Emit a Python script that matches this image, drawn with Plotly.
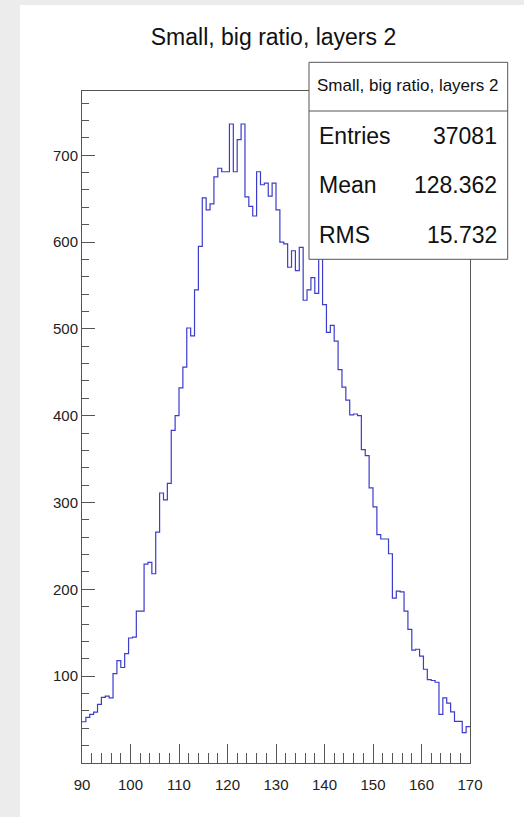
import numpy as np
import plotly.graph_objects as go

# ---- data ----
x_min, x_max, n_bins = 90, 170, 100
counts = [47.5, 52.5, 56, 58.5, 67.5, 75.5, 77, 75, 103, 118,
          110, 126, 144, 145, 175, 175, 229, 231, 218, 266,
          311, 303, 322, 383, 400, 432, 456, 501, 492, 545,
          595, 651, 637, 644, 675, 685, 681, 681, 736, 681,
          718, 736, 652, 641, 630, 681, 666, 668, 653, 668,
          637, 600, 598, 571, 590, 567, 594, 533, 545, 559,
          541, 600, 528, 496, 504, 486, 453, 433, 418, 401,
          402, 400, 361, 354, 317, 295, 263, 258, 258, 241,
          190, 198, 197, 175, 154, 130, 131, 123, 108, 96,
          95, 93, 56, 75, 69, 59, 48, 48, 35, 42]
title_text = "Small, big ratio, layers 2"
stat_labels = ["Entries", "Mean", "RMS"]
stat_values = ["37081", "128.362", "15.732"]
y_tick_vals = [100, 200, 300, 400, 500, 600, 700]
x_tick_vals = [90, 100, 110, 120, 130, 140, 150, 160, 170]

# ---- geometry ----
W, H = 524, 817
ML, MR, MT, MB = 82, 54, 91, 54
PW, PH = W - ML - MR, H - MT - MB

def px(xp):
    return (xp - ML) / PW

def py(yp):
    return (H - MB - yp) / PH

edges = np.linspace(x_min, x_max, n_bins + 1)
xs = list(edges)
ys = list(counts) + [counts[-1]]

FONT = "Liberation Sans, Arial, Helvetica, sans-serif"
AX = "#555555"

fig = go.Figure()
fig.add_trace(go.Scatter(x=xs, y=ys, mode="lines", line_shape="hv",
                         line=dict(color="rgb(60,60,205)", width=1.2),
                         hoverinfo="skip", showlegend=False))

fig.update_layout(
    width=W, height=H,
    margin=dict(l=ML, r=MR, t=MT, b=MB),
    paper_bgcolor="#ececec", plot_bgcolor="white",
    showlegend=False,
    title=dict(text=title_text, x=273.5 / W, xanchor="center",
               y=1 - 37 / H, yanchor="middle",
               font=dict(family=FONT, size=23, color="#111")),
    font=dict(family=FONT, color="#222"),
)
fig.update_xaxes(range=[x_min, x_max], showgrid=False, zeroline=False,
                 showline=True, linecolor=AX, linewidth=1, mirror=True,
                 ticks="inside", ticklen=19, tickcolor=AX, tickwidth=1,
                 tickvals=x_tick_vals, tickfont=dict(size=15, color="#222"),
                 ticklabelstandoff=8,
                 minor=dict(ticks="inside", ticklen=10, dtick=2, tick0=90,
                            tickcolor=AX, tickwidth=1, showgrid=False))
fig.update_yaxes(range=[0, 774], showgrid=False, zeroline=False,
                 showline=True, linecolor=AX, linewidth=1, mirror=True,
                 ticks="inside", ticklen=13, tickcolor=AX, tickwidth=1,
                 tickvals=y_tick_vals, tickfont=dict(size=15, color="#222"),
                 ticklabelstandoff=0,
                 minor=dict(ticks="inside", ticklen=7, dtick=20, tick0=0,
                            tickcolor=AX, tickwidth=1, showgrid=False))

# white canvas
fig.add_shape(type="rect", xref="paper", yref="paper", layer="below",
              x0=px(20), x1=px(W + 5), y0=py(H + 5), y1=py(5),
              fillcolor="white", line=dict(width=0))

# stats box
bx0, bx1, by0, by1, bsep = 309, 507.7, 62.3, 259.3, 111
fig.add_shape(type="rect", xref="paper", yref="paper", layer="above",
              x0=px(bx0), x1=px(bx1), y0=py(by1), y1=py(by0),
              fillcolor="white", line=dict(color=AX, width=1))
fig.add_shape(type="line", xref="paper", yref="paper", layer="above",
              x0=px(bx0), x1=px(bx1), y0=py(bsep), y1=py(bsep),
              line=dict(color=AX, width=1))
fig.add_annotation(xref="paper", yref="paper", x=px(407.5), y=py(86),
                   text=title_text, showarrow=False, xanchor="center",
                   yanchor="middle", font=dict(family=FONT, size=17, color="#111"))
for lab, val, yy in zip(stat_labels, stat_values, [136, 185, 235]):
    fig.add_annotation(xref="paper", yref="paper", x=px(317), y=py(yy),
                       text=lab, showarrow=False, xanchor="left", yanchor="middle",
                       font=dict(family=FONT, size=23, color="#111"))
    fig.add_annotation(xref="paper", yref="paper", x=px(499), y=py(yy),
                       text=val, showarrow=False, xanchor="right", yanchor="middle",
                       font=dict(family=FONT, size=23, color="#111"))

fig.write_html("out.html")
